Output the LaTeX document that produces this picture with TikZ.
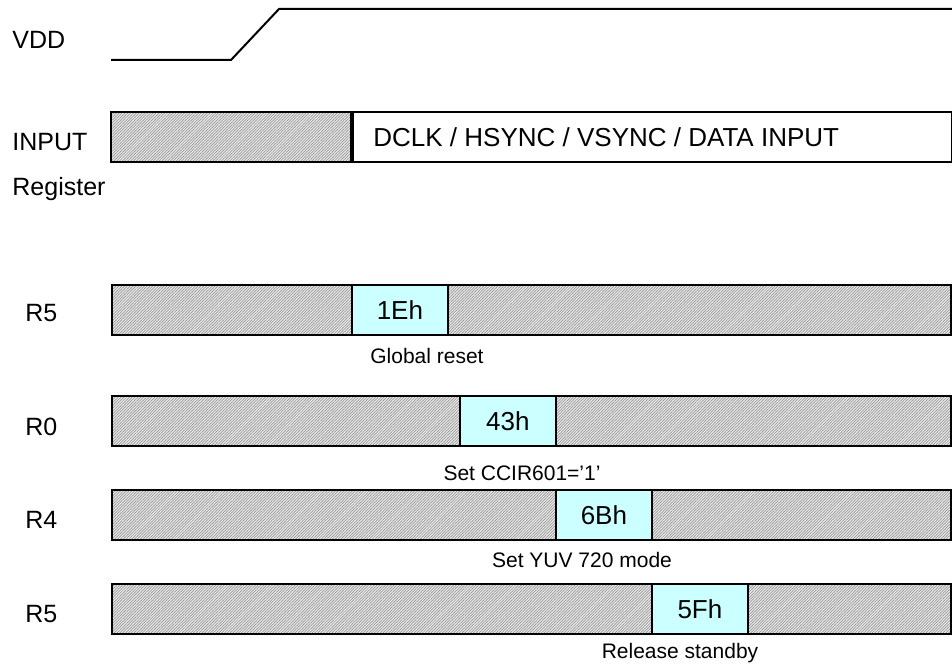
\documentclass[tikz,border=0pt]{standalone}
\usepackage{fontspec}
\setmainfont{Liberation Sans}
\usetikzlibrary{patterns.meta,positioning}
\definecolor{tdInk}{HTML}{000000}
\definecolor{tdValue}{HTML}{CCFFFF}
\definecolor{tdHatch}{HTML}{959595}
\tikzset{
  lbl/.style={anchor=west,inner sep=0pt,text=tdInk,font=\fontsize{12.5}{14}\selectfont},
  note/.style={inner sep=0pt,text=tdInk,font=\fontsize{10.5}{12}\selectfont},
  idle/.style={draw=tdInk,line width=.9pt,anchor=west,inner sep=0pt,
    minimum height=25pt,preaction={fill=gray!15},
    pattern={Lines[angle=45,distance=1pt,line width=.35pt]},pattern color=tdHatch},
  bar/.style={idle,minimum width=419.5pt},
  valbox/.style={draw=tdInk,line width=.9pt,fill=tdValue,anchor=west,inner sep=0pt,
    minimum width=48pt,minimum height=25pt,font=\fontsize{13}{15}\selectfont},
  wave/.style={draw=tdInk,line width=1pt},
}
\begin{document}
\begin{tikzpicture}[x=0.5pt,y=-0.5pt]
  \useasboundingbox (0,0) rectangle (952,668);
  % supply ramp
  \node[lbl] (vdd) at (12,40) {VDD};
  \draw[wave] (111,60) -- (231,60) -- (279,9) -- (952,9);
  % input bus
  \node[lbl] (input) at (12,142) {INPUT};
  \node[idle,minimum width=120pt] (inidle) at (111,137) {};
  \node[draw=tdInk,line width=.9pt,fill=white,anchor=west,inner sep=0pt,
    minimum width=299.5pt,minimum height=25pt] (indata) at (inidle.east) {};
  \node[anchor=west,inner sep=0pt,font=\fontsize{13}{15}\selectfont]
    (indatatxt) at (373,137) {DCLK / HSYNC / VSYNC / DATA INPUT};
  \node[lbl] (register) at (12,189) {Register};
  % register writes
  \node[lbl] (r5a) at (25,313) {R5};
  \node[bar] (r5abar) at (111,310) {};
  \node[valbox] (r5aval) at (351,310) {1Eh};
  \node[note] (r5anote) at (427,356) {Global reset};
  \node[lbl] (r0) at (25,427) {R0};
  \node[bar] (r0bar) at (111,421) {};
  \node[valbox] (r0val) at (459,421) {43h};
  \node[note] (r0note) at (522,473) {Set CCIR601=’1’};
  \node[lbl] (r4) at (25,520) {R4};
  \node[bar] (r4bar) at (111,515) {};
  \node[valbox] (r4val) at (555,515) {6Bh};
  \node[note] (r4note) at (582,560) {Set YUV 720 mode};
  \node[lbl] (r5b) at (25,614) {R5};
  \node[bar] (r5bbar) at (111,609) {};
  \node[valbox] (r5bval) at (651,609) {5Fh};
  \node[note] (r5bnote) at (680,653) {Release standby};
\end{tikzpicture}
\end{document}
